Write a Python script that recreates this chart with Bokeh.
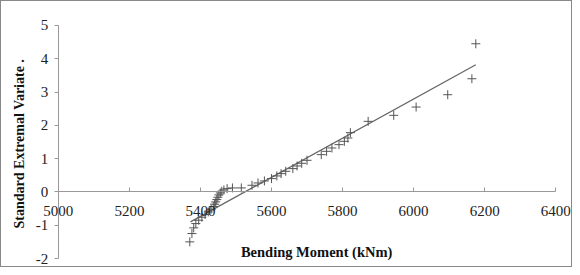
import math
from bokeh.plotting import figure
from bokeh.models import Range1d, Label, FixedTicker
from bokeh.embed import file_html
from bokeh.resources import INLINE

# Data
bending_moment = [5370, 5376, 5381, 5387, 5395, 5404, 5413, 5422, 5430, 5436,
                  5440, 5443, 5446, 5449, 5452, 5456, 5460, 5466, 5475, 5490,
                  5515, 5545, 5562, 5580, 5600, 5615, 5627, 5640, 5660, 5672,
                  5685, 5700, 5740, 5755, 5770, 5790, 5805, 5815, 5822, 5872,
                  5944, 6007, 6096, 6164, 6175]
std_variate = [-1.50, -1.25, -1.08, -0.95, -0.85, -0.76, -0.68, -0.60, -0.52, -0.44,
               -0.37, -0.30, -0.23, -0.16, -0.09, -0.03, 0.02, 0.06, 0.10, 0.12,
               0.12, 0.20, 0.27, 0.33, 0.40, 0.48, 0.55, 0.62, 0.70, 0.78,
               0.86, 0.95, 1.12, 1.22, 1.32, 1.42, 1.52, 1.62, 1.78, 2.12,
               2.30, 2.55, 2.92, 3.40, 4.45]
trend_x = [5372, 6175]
trend_y = [-0.90, 3.82]
x_ticks = [5000, 5200, 5400, 5600, 5800, 6000, 6200, 6400]
y_ticks = [-2, -1, 0, 1, 2, 3, 4, 5]
y_tick_labels = ["-2", "-1", "0", "1", "2", "3", "4", "5"]

FONT = "Liberation Serif"

p = figure(width=572, height=267, output_backend="svg", toolbar_location=None,
           x_range=Range1d(4840, 6450), y_range=Range1d(-2.30, 5.72),
           min_border=0)
p.styles = {"border": "1px solid #888"}
p.outline_line_color = None
p.grid.visible = False
p.background_fill_color = "white"
p.border_fill_color = "white"

p.line(trend_x, trend_y, line_color="#666666", line_width=1.3)
p.scatter(bending_moment, std_variate, marker="cross", size=9,
          line_color="#555555", line_width=1)

# x axis crossing at zero
xa = p.xaxis[0]
xa.fixed_location = 0
xa.bounds = (5000, 6400)
xa.ticker = FixedTicker(ticks=x_ticks)
xa.axis_line_color = "#999999"
xa.major_tick_line_color = "#999999"
xa.major_tick_in = 4
xa.major_tick_out = 0
xa.minor_tick_line_color = None
xa.major_label_standoff = 14
xa.major_label_text_font = FONT
xa.major_label_text_font_size = "15px"
xa.major_label_text_color = "#222222"

# y axis at x = 5000
ya = p.yaxis[0]
ya.fixed_location = 5000
ya.bounds = (-2, 5)
ya.ticker = FixedTicker(ticks=y_ticks)
ya.major_label_overrides = {t: s for t, s in zip(y_ticks, y_tick_labels)}
ya.axis_line_color = "#999999"
ya.major_tick_line_color = "#999999"
ya.major_tick_in = 0
ya.major_tick_out = 4
ya.minor_tick_line_color = None
ya.major_label_standoff = 6
ya.major_label_text_font = FONT
ya.major_label_text_font_size = "15px"
ya.major_label_text_color = "#222222"

p.add_layout(Label(x=4891, y=1.45, text="Standard Extremal Variate .",
                   angle=math.pi / 2, text_align="center", text_baseline="middle",
                   text_font=FONT, text_font_size="14px",
                   text_font_style="bold", text_color="#111111"))
p.add_layout(Label(x=5727, y=-1.79, text="Bending Moment (kNm)",
                   text_align="center", text_baseline="middle",
                   text_font=FONT, text_font_size="14.5px",
                   text_font_style="bold", text_color="#111111"))

open("out.html", "w").write(file_html(p, INLINE))
